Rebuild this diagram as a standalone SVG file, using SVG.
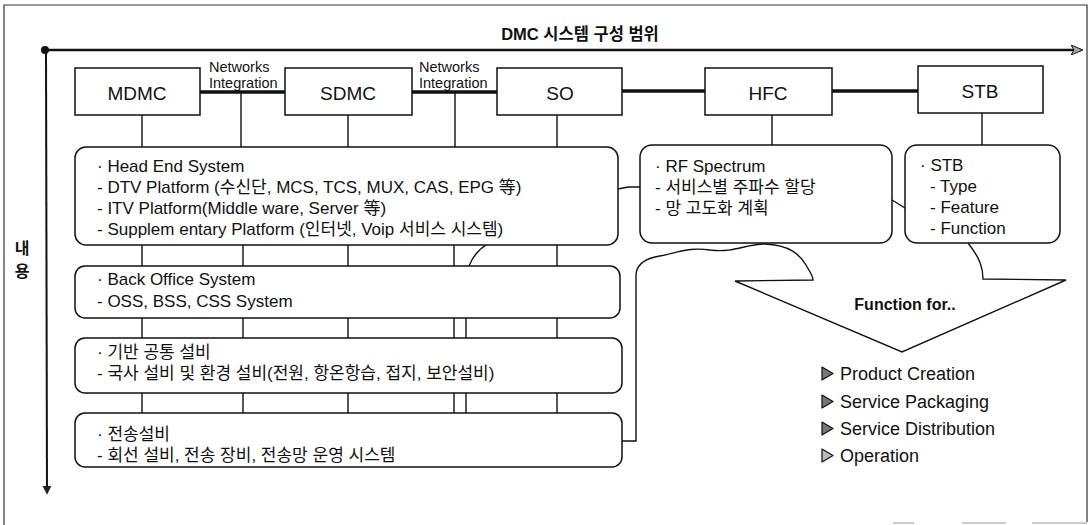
<svg xmlns="http://www.w3.org/2000/svg" width="1091" height="525" viewBox="0 0 1091 525">
<style>
.t{font-family:"Liberation Sans","Noto Sans CJK KR",sans-serif;font-size:17px;fill:#111}
.lbl{font-size:19px;text-anchor:middle}
.net{font-size:14.5px}
.lst{font-size:18px}
.node{fill:#fff;stroke:#111;stroke-width:1.5}
.ln{fill:none;stroke:#111;stroke-width:1.4}
.thick{fill:none;stroke:#111;stroke-width:3.5}
.frame{fill:none;stroke:#333;stroke-width:1.2}
.frag{fill:none;stroke:#999;stroke-width:1.2}
.bul{fill:#777;stroke:#111;stroke-width:1.2;stroke-linejoin:round}
</style>
<defs>
<marker id="ah" viewBox="0 0 12 10" refX="10" refY="5" markerWidth="12" markerHeight="10" markerUnits="userSpaceOnUse" orient="auto">
<path d="M0,0 L12,5 L0,10 L3,5 Z" fill="#aaa" stroke="#111" stroke-width="1"/>
</marker>
<marker id="ahd" viewBox="0 0 10 10" refX="8" refY="5" markerWidth="9" markerHeight="9" markerUnits="userSpaceOnUse" orient="auto">
<path d="M0,0 L10,5 L0,10 Z" fill="#222"/>
</marker>
</defs>
<rect width="1091" height="525" fill="#fff"/>
<path class="frame" d="M4,525 V5 H1087 V522"/>
<path class="frag" d="M893,523 H914 M962,523 H1006 M1032,523 H1087"/>
<g id="axes">
<line x1="45" y1="50" x2="1081" y2="50" stroke="#111" stroke-width="2.5" marker-end="url(#ah)"/>
<line x1="46" y1="50" x2="47" y2="493" stroke="#111" stroke-width="2" marker-end="url(#ahd)"/>
<circle cx="45" cy="50" r="4" fill="#111"/>
<text class="t" x="580" y="40" text-anchor="middle" style="font-size:16.5px;font-weight:bold">DMC 시스템 구성 범위</text>
<text class="t" x="22" y="254" text-anchor="middle" style="font-size:16px;font-weight:bold">내</text>
<text class="t" x="22" y="277" text-anchor="middle" style="font-size:16px;font-weight:bold">용</text>
</g>
<g id="connectors">
<path class="thick" d="M200,92 H285 M412,92 H497 M622,91 H705 M832,91 H918"/>
<path class="ln" d="M142,115 V147 M241,92 V147 M348,115 V147 M455,92 V147 M557,115 V147 M772,115 V145 M982,113 V145"/>
<path class="ln" d="M142,245 V266 M243,245 V266 M348,245 V266 M454,245 V266 M557,245 V266 M469,266 C473,256 478,250 486,245"/>
<path class="ln" d="M142,318 V338 M243,318 V338 M348,318 V338 M454,318 V338 M466,318 V338 M557,318 V338"/>
<path class="ln" d="M142,393 V413 M243,393 V413 M348,393 V413 M454,393 V413 M466,393 V413 M557,393 V413"/>
<path class="ln" d="M618,189 L628,187 H640"/>
<path class="ln" d="M892,200 L905,208"/>
<path class="ln" d="M622,441 H636 V276 C636,266 642,260 655,257 C680,252 690,247 710,250 C735,253 745,244 765,244 C790,245 800,255 806,265 C810,272 813,276 813,280 L735,281 L902,352 L1066,280 L983,279 C983,268 980,258 968,243"/>
</g>
<text class="t net" x="209" y="72">Networks</text>
<text class="t net" x="209" y="88">Integration</text>
<text class="t net" x="419" y="72">Networks</text>
<text class="t net" x="419" y="88">Integration</text>
<g id="mdmc"><rect class="node" x="75" y="68" width="125" height="47"/><text class="t lbl" x="137" y="100">MDMC</text></g>
<g id="sdmc"><rect class="node" x="285" y="68" width="127" height="47"/><text class="t lbl" x="348" y="100">SDMC</text></g>
<g id="so"><rect class="node" x="497" y="68" width="125" height="47"/><text class="t lbl" x="560" y="100">SO</text></g>
<g id="hfc"><rect class="node" x="705" y="68" width="127" height="47"/><text class="t lbl" x="768" y="100">HFC</text></g>
<g id="stb"><rect class="node" x="918" y="66" width="125" height="47"/><text class="t lbl" x="980" y="98">STB</text></g>
<g id="headend"><rect class="node" x="75" y="147" width="543" height="98" rx="11"/>
<text class="t" x="97" y="172">· Head End System</text>
<text class="t" x="97" y="193">- DTV Platform (수신단, MCS, TCS, MUX, CAS, EPG 等)</text>
<text class="t" x="97" y="214">- ITV Platform(Middle ware, Server 等)</text>
<text class="t" x="97" y="235">- Supplem entary Platform (인터넷, Voip 서비스 시스템)</text></g>
<g id="backoffice"><rect class="node" x="75" y="266" width="545" height="52" rx="10"/>
<text class="t" x="97" y="285">· Back Office System</text>
<text class="t" x="97" y="307">- OSS, BSS, CSS System</text></g>
<g id="infra"><rect class="node" x="75" y="338" width="547" height="55" rx="10"/>
<text class="t" x="97" y="358">· 기반 공통 설비</text>
<text class="t" x="97" y="379">- 국사 설비 및 환경 설비(전원, 항온항습, 접지, 보안설비)</text></g>
<g id="trans"><rect class="node" x="75" y="413" width="547" height="54" rx="10"/>
<text class="t" x="97" y="440">· 전송설비</text>
<text class="t" x="97" y="461">- 회선 설비, 전송 장비, 전송망 운영 시스템</text></g>
<g id="rf"><rect class="node" x="640" y="145" width="252" height="98" rx="12"/>
<text class="t" x="655" y="172">· RF Spectrum</text>
<text class="t" x="655" y="193">- 서비스별 주파수 할당</text>
<text class="t" x="655" y="214">- 망 고도화 계획</text></g>
<g id="stbinfo"><rect class="node" x="905" y="145" width="155" height="98" rx="12"/>
<text class="t" x="920" y="171">· STB</text>
<text class="t" x="930" y="192">- Type</text>
<text class="t" x="930" y="213">- Feature</text>
<text class="t" x="930" y="234">- Function</text></g>
<g id="function">
<text class="t" x="905" y="310" text-anchor="middle" style="font-size:16px;font-weight:bold">Function for..</text>
<polygon class="bul" points="822,367 833,373.5 822,380"/>
<polygon class="bul" points="822,395 833,401.5 822,408"/>
<polygon class="bul" points="822,422 833,428.5 822,435"/>
<polygon class="bul" points="822,449 833,455.5 822,462" style="fill:#bbb"/>
<text class="t lst" x="840" y="380">Product Creation</text>
<text class="t lst" x="840" y="408">Service Packaging</text>
<text class="t lst" x="840" y="435">Service Distribution</text>
<text class="t lst" x="840" y="462">Operation</text>
</g>
</svg>
